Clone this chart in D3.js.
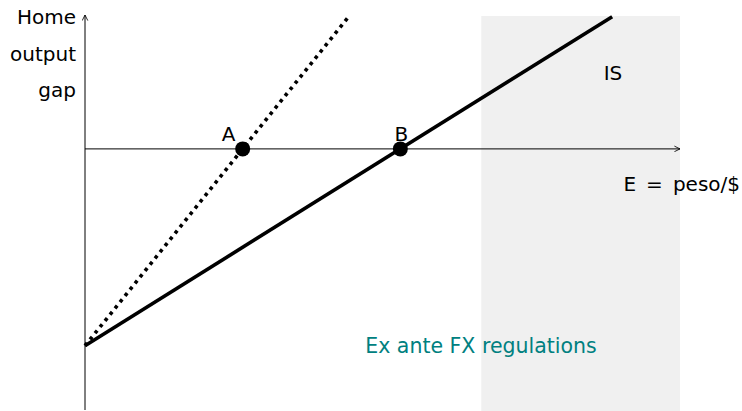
<!DOCTYPE html>
<html><head><meta charset="utf-8">
<script src="https://cdn.jsdelivr.net/npm/d3@7"></script>
<style>body{margin:0;background:#fff}svg{display:block}text{font-family:"DejaVu Sans",sans-serif}</style>
</head><body><svg id="c" width="742" height="411"></svg>
<script>
// Data (model units)
const xDomain = [0, 10];
const yDomain = [-3.9, 2];
const intercept = -2.94;
const eqA = 2.65;   // equilibrium with FX regulations (dotted IS)
const eqB = 5.3;    // equilibrium, original IS
const solidEndX = 8.86;
const dottedEndX = 4.44;
const shadeRange = [6.66, 10];
const points = [{name: "A", x: eqA}, {name: "B", x: eqB}];
const yLabels = ["Home", "output", "gap"];

const svg = d3.select("#c");
const x = d3.scaleLinear().domain(xDomain).range([85, 680]);
const y = d3.scaleLinear().domain(yDomain).range([410, 15]);

const defs = svg.append("defs");
defs.append("marker").attr("id","arr").attr("viewBox","0 0 10 10").attr("refX",9).attr("refY",5)
  .attr("markerWidth",7).attr("markerHeight",7).attr("markerUnits","userSpaceOnUse").attr("orient","auto")
  .append("path").attr("d","M1,1 L9,5 L1,9").attr("fill","none").attr("stroke","#000").attr("stroke-width",1.2);

// shaded region
svg.append("rect").attr("x", x(shadeRange[0])).attr("y", y(yDomain[1]) + 1)
  .attr("width", x(shadeRange[1]) - x(shadeRange[0])).attr("height", y(yDomain[0]) - y(yDomain[1]))
  .attr("fill", "#f0f0f0");

// axes
svg.append("line").attr("x1", x(0)).attr("x2", x(0)).attr("y1", y(yDomain[0])).attr("y2", y(yDomain[1]))
  .attr("stroke","#000").attr("stroke-width",1).attr("marker-end","url(#arr)");
svg.append("line").attr("x1", x(0)).attr("x2", x(xDomain[1])).attr("y1", y(0)).attr("y2", y(0))
  .attr("stroke","#000").attr("stroke-width",1).attr("marker-end","url(#arr)");

const line = d3.line().x(d => x(d[0])).y(d => y(d[1]));
const slopeB = -intercept / eqB, slopeA = -intercept / eqA;
svg.append("path").attr("d", line([[0, intercept], [solidEndX, intercept + slopeB * solidEndX]]))
  .attr("stroke","#000").attr("stroke-width",3.6).attr("fill","none");
svg.append("path").attr("d", line([[0, intercept], [dottedEndX, intercept + slopeA * dottedEndX]]))
  .attr("stroke","#000").attr("stroke-width",3.6).attr("fill","none").attr("stroke-dasharray","3.5,4.5");

svg.selectAll("circle.pt").data(points).join("circle").attr("class","pt")
  .attr("cx", d => x(d.x)).attr("cy", y(0)).attr("r", 7.5).attr("fill","#000");
svg.selectAll("text.pt").data(points).join("text").attr("class","pt")
  .attr("x", (d,i) => x(d.x) + (i === 0 ? -14 : 1)).attr("y", y(0) - 8)
  .attr("text-anchor","middle").attr("font-size",20).text(d => d.name);

svg.selectAll("text.yl").data(yLabels).join("text").attr("class","yl")
  .attr("x", 76).attr("y", (d,i) => 24 + i * 36.5).attr("text-anchor","end").attr("font-size",20).text(d => d);

svg.append("text").attr("x", 740).attr("y", 191).attr("text-anchor","end").attr("font-size",20).text("E\u2002=\u2002peso/$");
svg.append("text").attr("x", 613).attr("y", 80).attr("text-anchor","middle").attr("font-size",20).text("IS");
svg.append("text").attr("x", 481).attr("y", 353).attr("text-anchor","middle").attr("font-size",20.5)
  .attr("fill","#008080").text("Ex ante FX regulations");
</script></body></html>
